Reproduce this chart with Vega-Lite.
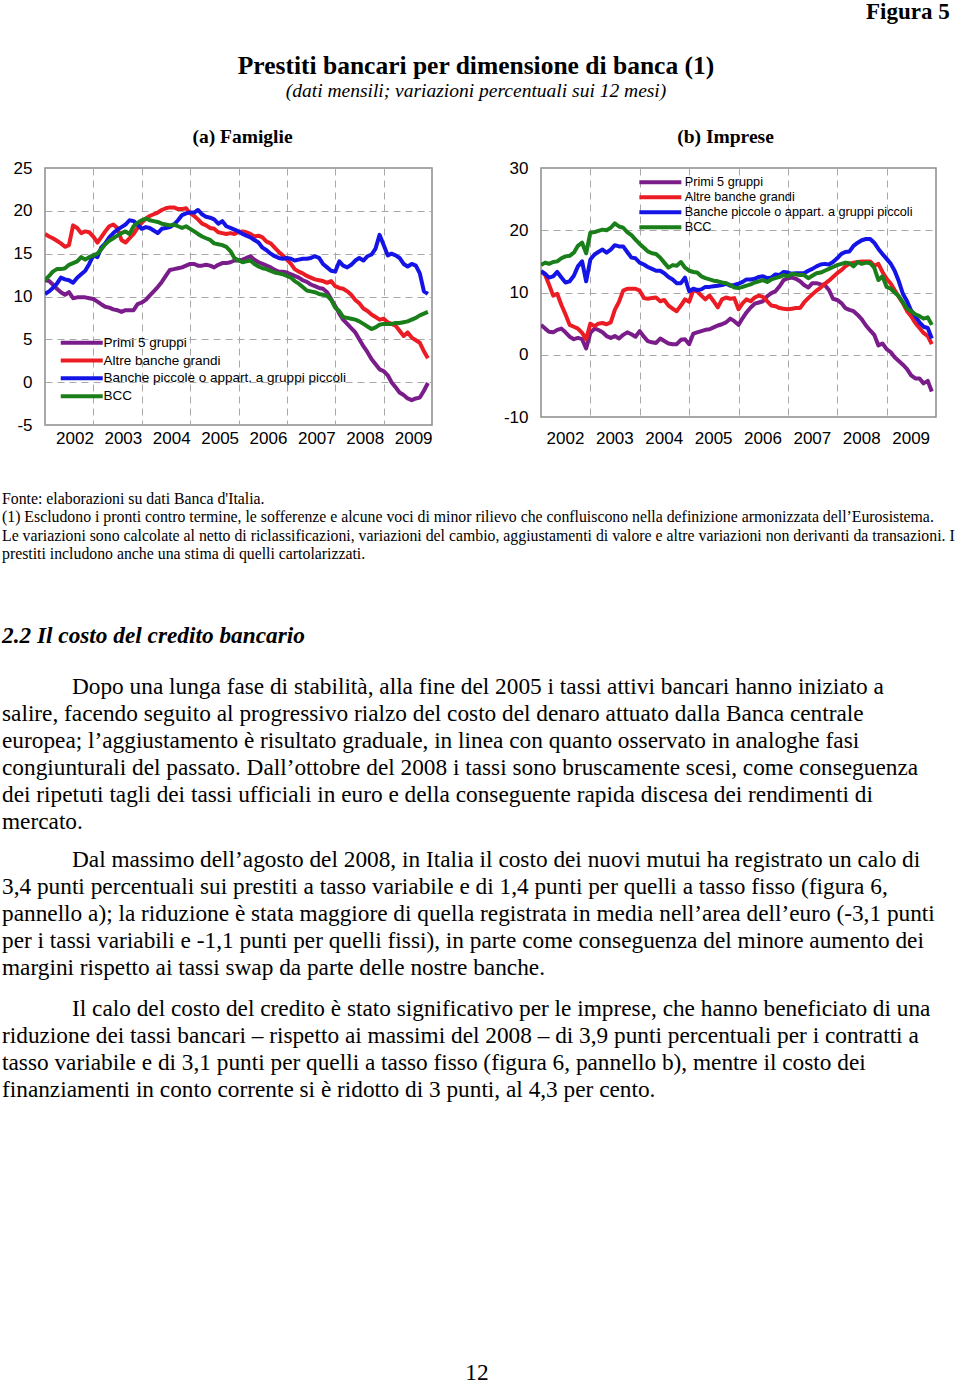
{
"$schema":"https://vega.github.io/schema/vega-lite/v6.json",
"background":"white",
"padding":{"left":1,"top":0,"right":0,"bottom":0},
"title":{"text":"Figura 5","anchor":"end","font":"Liberation Serif","fontSize":23,"fontWeight":"bold","color":"black","offset":30,"dx":-5},
"spacing":23,
"config":{"view":{"stroke":null},"font":"Liberation Sans"},
"datasets":{
"fam":[
{"d":"2002-01-01","P":11.9,"A":17.3,"B":10.3,"C":11.9},{"d":"2002-02-01","P":11.8,"A":17.0,"B":10.6,"C":12.4},{"d":"2002-03-01","P":11.4,"A":16.8,"B":11.0,"C":12.9},{"d":"2002-04-01","P":10.9,"A":16.5,"B":11.5,"C":13.2},{"d":"2002-05-01","P":10.5,"A":16.2,"B":12.2,"C":13.2},{"d":"2002-06-01","P":10.2,"A":15.8,"B":12.0,"C":13.3},{"d":"2002-07-01","P":10.5,"A":16.0,"B":11.9,"C":13.7},{"d":"2002-08-01","P":9.8,"A":18.3,"B":11.6,"C":13.9},{"d":"2002-09-01","P":9.9,"A":18.0,"B":12.2,"C":14.1},{"d":"2002-10-01","P":9.9,"A":17.4,"B":12.6,"C":14.6},{"d":"2002-11-01","P":9.9,"A":17.6,"B":13.0,"C":14.3},{"d":"2002-12-01","P":9.8,"A":17.5,"B":13.8,"C":14.6},
{"d":"2003-01-01","P":9.7,"A":17.0,"B":14.8,"C":14.8},{"d":"2003-02-01","P":9.4,"A":16.3,"B":14.6,"C":15.0},{"d":"2003-03-01","P":9.1,"A":16.9,"B":15.7,"C":15.5},{"d":"2003-04-01","P":8.8,"A":17.6,"B":16.2,"C":16.1},{"d":"2003-05-01","P":8.7,"A":18.2,"B":16.9,"C":16.5},{"d":"2003-06-01","P":8.5,"A":18.4,"B":17.4,"C":16.8},{"d":"2003-07-01","P":8.4,"A":18.0,"B":17.8,"C":17.1},{"d":"2003-08-01","P":8.2,"A":16.6,"B":18.1,"C":17.4},{"d":"2003-09-01","P":8.4,"A":16.3,"B":18.4,"C":17.6},{"d":"2003-10-01","P":8.4,"A":16.8,"B":18.9,"C":17.3},{"d":"2003-11-01","P":8.4,"A":17.3,"B":18.8,"C":18.2},{"d":"2003-12-01","P":9.1,"A":18.0,"B":18.4,"C":18.6},
{"d":"2004-01-01","P":9.3,"A":18.6,"B":17.9,"C":18.9},{"d":"2004-02-01","P":9.6,"A":19.1,"B":18.1,"C":19.1},{"d":"2004-03-01","P":10.1,"A":19.4,"B":18.0,"C":18.9},{"d":"2004-04-01","P":10.6,"A":19.6,"B":17.7,"C":18.8},{"d":"2004-05-01","P":11.1,"A":19.8,"B":17.4,"C":18.7},{"d":"2004-06-01","P":11.7,"A":20.1,"B":17.9,"C":18.5},{"d":"2004-07-01","P":12.4,"A":20.3,"B":18.0,"C":18.4},{"d":"2004-08-01","P":13.1,"A":20.4,"B":18.1,"C":18.3},{"d":"2004-09-01","P":13.2,"A":20.4,"B":18.4,"C":18.4},{"d":"2004-10-01","P":13.3,"A":20.2,"B":18.9,"C":18.2},{"d":"2004-11-01","P":13.4,"A":20.2,"B":19.5,"C":18.0},{"d":"2004-12-01","P":13.6,"A":20.3,"B":19.7,"C":18.2},
{"d":"2005-01-01","P":13.8,"A":19.7,"B":19.8,"C":17.9},{"d":"2005-02-01","P":13.8,"A":19.4,"B":19.8,"C":17.6},{"d":"2005-03-01","P":13.6,"A":19.0,"B":20.1,"C":17.3},{"d":"2005-04-01","P":13.6,"A":18.5,"B":19.6,"C":17.0},{"d":"2005-05-01","P":13.7,"A":18.3,"B":19.3,"C":16.8},{"d":"2005-06-01","P":13.6,"A":18.0,"B":19.2,"C":16.6},{"d":"2005-07-01","P":13.4,"A":17.9,"B":19.0,"C":16.2},{"d":"2005-08-01","P":13.7,"A":17.5,"B":18.5,"C":16.1},{"d":"2005-09-01","P":13.9,"A":17.4,"B":18.8,"C":16.0},{"d":"2005-10-01","P":13.9,"A":17.3,"B":18.2,"C":15.8},{"d":"2005-11-01","P":14.0,"A":17.4,"B":18.0,"C":15.3},{"d":"2005-12-01","P":14.2,"A":17.3,"B":17.8,"C":14.5},
{"d":"2006-01-01","P":14.2,"A":17.5,"B":17.6,"C":14.2},{"d":"2006-02-01","P":14.3,"A":17.6,"B":17.3,"C":14.0},{"d":"2006-03-01","P":14.5,"A":17.5,"B":17.1,"C":14.1},{"d":"2006-04-01","P":14.7,"A":17.3,"B":16.9,"C":14.2},{"d":"2006-05-01","P":14.3,"A":17.0,"B":16.6,"C":13.8},{"d":"2006-06-01","P":14.0,"A":17.1,"B":16.3,"C":13.5},{"d":"2006-07-01","P":13.8,"A":16.9,"B":15.7,"C":13.3},{"d":"2006-08-01","P":13.6,"A":16.4,"B":15.4,"C":13.2},{"d":"2006-09-01","P":13.4,"A":16.2,"B":15.0,"C":13.0},{"d":"2006-10-01","P":13.1,"A":15.7,"B":14.7,"C":12.8},{"d":"2006-11-01","P":12.9,"A":15.2,"B":14.5,"C":12.7},{"d":"2006-12-01","P":12.9,"A":14.8,"B":14.4,"C":12.6},
{"d":"2007-01-01","P":12.8,"A":14.3,"B":14.5,"C":12.4},{"d":"2007-02-01","P":12.6,"A":13.8,"B":14.4,"C":12.2},{"d":"2007-03-01","P":12.4,"A":13.2,"B":14.2,"C":11.8},{"d":"2007-04-01","P":12.2,"A":12.9,"B":14.3,"C":11.5},{"d":"2007-05-01","P":11.9,"A":12.7,"B":14.4,"C":11.1},{"d":"2007-06-01","P":11.7,"A":12.4,"B":14.4,"C":10.7},{"d":"2007-07-01","P":11.4,"A":12.2,"B":14.5,"C":10.6},{"d":"2007-08-01","P":11.2,"A":12.0,"B":14.7,"C":10.5},{"d":"2007-09-01","P":11.0,"A":11.9,"B":14.5,"C":10.3},{"d":"2007-10-01","P":10.9,"A":11.8,"B":13.8,"C":10.2},{"d":"2007-11-01","P":10.5,"A":11.6,"B":13.4,"C":10.1},{"d":"2007-12-01","P":9.7,"A":11.8,"B":13.0,"C":9.6},
{"d":"2008-01-01","P":8.9,"A":11.2,"B":12.9,"C":8.7},{"d":"2008-02-01","P":8.0,"A":11.0,"B":14.1,"C":8.3},{"d":"2008-03-01","P":7.3,"A":10.9,"B":13.6,"C":7.6},{"d":"2008-04-01","P":6.8,"A":10.6,"B":13.4,"C":7.5},{"d":"2008-05-01","P":6.3,"A":10.2,"B":13.7,"C":7.4},{"d":"2008-06-01","P":5.8,"A":9.6,"B":14.2,"C":7.3},{"d":"2008-07-01","P":5.0,"A":9.2,"B":14.5,"C":7.1},{"d":"2008-08-01","P":4.2,"A":8.6,"B":14.2,"C":6.8},{"d":"2008-09-01","P":3.5,"A":8.3,"B":14.7,"C":6.5},{"d":"2008-10-01","P":2.7,"A":7.9,"B":14.9,"C":6.2},{"d":"2008-11-01","P":2.1,"A":7.6,"B":15.6,"C":6.4},{"d":"2008-12-01","P":1.5,"A":7.3,"B":17.2,"C":6.7},
{"d":"2009-01-01","P":1.3,"A":7.4,"B":16.0,"C":6.8},{"d":"2009-02-01","P":0.8,"A":7.0,"B":14.8,"C":6.8},{"d":"2009-03-01","P":0.0,"A":6.8,"B":15.0,"C":6.8},{"d":"2009-04-01","P":-0.6,"A":6.6,"B":14.8,"C":6.9},{"d":"2009-05-01","P":-1.2,"A":6.0,"B":14.5,"C":6.9},{"d":"2009-06-01","P":-1.5,"A":5.4,"B":13.8,"C":7.0},{"d":"2009-07-01","P":-1.9,"A":5.8,"B":13.5,"C":7.1},{"d":"2009-08-01","P":-2.1,"A":5.2,"B":13.8,"C":7.3},{"d":"2009-09-01","P":-1.9,"A":4.9,"B":13.6,"C":7.5},{"d":"2009-10-01","P":-1.8,"A":4.6,"B":12.7,"C":7.8},{"d":"2009-11-01","P":-1.0,"A":3.6,"B":10.6,"C":8.0},{"d":"2009-12-01","P":-0.1,"A":2.8,"B":10.3,"C":8.2}
],
"imp":[
{"d":"2002-01-01","P":4.8,"A":13.4,"B":13.4,"C":14.4},{"d":"2002-02-01","P":4.2,"A":12.8,"B":13.0,"C":14.8},{"d":"2002-03-01","P":3.7,"A":11.3,"B":12.4,"C":14.6},{"d":"2002-04-01","P":3.6,"A":9.5,"B":12.6,"C":14.9},{"d":"2002-05-01","P":4.0,"A":9.8,"B":13.3,"C":15.0},{"d":"2002-06-01","P":4.2,"A":8.0,"B":12.4,"C":15.5},{"d":"2002-07-01","P":3.6,"A":6.5,"B":11.6,"C":15.8},{"d":"2002-08-01","P":2.9,"A":4.8,"B":11.8,"C":15.9},{"d":"2002-09-01","P":2.5,"A":4.5,"B":12.7,"C":16.4},{"d":"2002-10-01","P":2.7,"A":4.2,"B":14.2,"C":17.5},{"d":"2002-11-01","P":2.5,"A":3.5,"B":15.0,"C":18.0},{"d":"2002-12-01","P":1.0,"A":2.5,"B":11.8,"C":16.3},
{"d":"2003-01-01","P":3.5,"A":5.0,"B":15.3,"C":19.6},{"d":"2003-02-01","P":4.2,"A":4.6,"B":16.1,"C":19.7},{"d":"2003-03-01","P":4.0,"A":5.0,"B":16.5,"C":19.9},{"d":"2003-04-01","P":3.6,"A":5.1,"B":16.9,"C":20.1},{"d":"2003-05-01","P":3.0,"A":4.9,"B":16.4,"C":20.0},{"d":"2003-06-01","P":2.7,"A":5.2,"B":16.9,"C":20.4},{"d":"2003-07-01","P":3.0,"A":7.2,"B":17.6,"C":21.1},{"d":"2003-08-01","P":2.6,"A":8.5,"B":17.4,"C":20.6},{"d":"2003-09-01","P":3.2,"A":10.3,"B":17.4,"C":20.4},{"d":"2003-10-01","P":3.6,"A":10.6,"B":16.5,"C":19.7},{"d":"2003-11-01","P":3.3,"A":10.6,"B":15.6,"C":19.2},{"d":"2003-12-01","P":2.9,"A":10.6,"B":15.5,"C":18.5},
{"d":"2004-01-01","P":3.8,"A":10.3,"B":14.8,"C":17.8},{"d":"2004-02-01","P":2.9,"A":9.1,"B":14.5,"C":17.2},{"d":"2004-03-01","P":2.2,"A":9.0,"B":14.1,"C":16.6},{"d":"2004-04-01","P":2.0,"A":9.1,"B":13.8,"C":16.3},{"d":"2004-05-01","P":1.9,"A":9.2,"B":13.5,"C":16.2},{"d":"2004-06-01","P":2.6,"A":8.6,"B":13.5,"C":15.6},{"d":"2004-07-01","P":2.2,"A":8.8,"B":13.1,"C":14.8},{"d":"2004-08-01","P":1.8,"A":7.9,"B":12.5,"C":14.0},{"d":"2004-09-01","P":1.7,"A":7.4,"B":12.1,"C":14.4},{"d":"2004-10-01","P":1.7,"A":7.0,"B":11.5,"C":14.3},{"d":"2004-11-01","P":2.4,"A":7.9,"B":11.5,"C":14.9},{"d":"2004-12-01","P":2.5,"A":8.9,"B":12.4,"C":14.0},
{"d":"2005-01-01","P":1.7,"A":8.5,"B":10.2,"C":13.5},{"d":"2005-02-01","P":3.4,"A":10.4,"B":10.6,"C":13.3},{"d":"2005-03-01","P":3.6,"A":10.2,"B":10.4,"C":13.2},{"d":"2005-04-01","P":3.8,"A":9.5,"B":10.5,"C":12.6},{"d":"2005-05-01","P":4.0,"A":8.9,"B":10.9,"C":12.3},{"d":"2005-06-01","P":4.1,"A":9.5,"B":10.9,"C":12.1},{"d":"2005-07-01","P":4.4,"A":8.6,"B":11.0,"C":11.9},{"d":"2005-08-01","P":4.7,"A":7.6,"B":11.1,"C":11.8},{"d":"2005-09-01","P":4.9,"A":8.9,"B":11.2,"C":11.6},{"d":"2005-10-01","P":5.2,"A":9.2,"B":11.4,"C":11.5},{"d":"2005-11-01","P":5.8,"A":9.0,"B":11.1,"C":11.2},{"d":"2005-12-01","P":5.4,"A":9.1,"B":11.2,"C":10.8},
{"d":"2006-01-01","P":4.8,"A":7.3,"B":11.4,"C":10.7},{"d":"2006-02-01","P":5.9,"A":8.3,"B":11.7,"C":10.9},{"d":"2006-03-01","P":6.8,"A":8.9,"B":12.1,"C":11.1},{"d":"2006-04-01","P":7.6,"A":8.6,"B":12.1,"C":11.3},{"d":"2006-05-01","P":8.2,"A":9.2,"B":12.2,"C":11.6},{"d":"2006-06-01","P":8.4,"A":9.5,"B":12.5,"C":11.8},{"d":"2006-07-01","P":8.6,"A":9.3,"B":12.6,"C":12.0},{"d":"2006-08-01","P":9.4,"A":8.6,"B":12.3,"C":11.7},{"d":"2006-09-01","P":9.9,"A":7.9,"B":12.4,"C":12.1},{"d":"2006-10-01","P":10.2,"A":7.8,"B":12.9,"C":12.3},{"d":"2006-11-01","P":11.0,"A":7.5,"B":12.8,"C":12.5},{"d":"2006-12-01","P":12.0,"A":7.4,"B":13.3,"C":12.8},
{"d":"2007-01-01","P":12.3,"A":7.3,"B":13.2,"C":12.6},{"d":"2007-02-01","P":12.4,"A":7.4,"B":13.0,"C":13.0},{"d":"2007-03-01","P":12.2,"A":7.5,"B":13.1,"C":12.9},{"d":"2007-04-01","P":11.8,"A":7.5,"B":13.1,"C":12.8},{"d":"2007-05-01","P":11.2,"A":8.4,"B":13.1,"C":12.8},{"d":"2007-06-01","P":10.8,"A":9.1,"B":13.5,"C":12.3},{"d":"2007-07-01","P":11.5,"A":9.7,"B":13.8,"C":12.7},{"d":"2007-08-01","P":11.5,"A":10.3,"B":14.2,"C":13.1},{"d":"2007-09-01","P":11.3,"A":10.8,"B":14.5,"C":13.2},{"d":"2007-10-01","P":11.2,"A":11.4,"B":14.6,"C":13.5},{"d":"2007-11-01","P":10.4,"A":11.9,"B":14.5,"C":13.8},{"d":"2007-12-01","P":9.0,"A":12.5,"B":14.9,"C":14.1},
{"d":"2008-01-01","P":8.8,"A":13.1,"B":15.5,"C":14.4},{"d":"2008-02-01","P":8.3,"A":13.6,"B":16.2,"C":14.6},{"d":"2008-03-01","P":7.5,"A":14.2,"B":16.5,"C":14.8},{"d":"2008-04-01","P":7.2,"A":14.6,"B":16.6,"C":14.7},{"d":"2008-05-01","P":7.0,"A":14.8,"B":17.5,"C":14.2},{"d":"2008-06-01","P":6.4,"A":14.9,"B":18.0,"C":14.9},{"d":"2008-07-01","P":5.7,"A":15.0,"B":18.4,"C":14.6},{"d":"2008-08-01","P":4.7,"A":15.0,"B":18.6,"C":14.8},{"d":"2008-09-01","P":3.9,"A":15.0,"B":18.6,"C":14.7},{"d":"2008-10-01","P":3.2,"A":14.3,"B":18.0,"C":14.0},{"d":"2008-11-01","P":1.5,"A":14.6,"B":17.0,"C":12.0},{"d":"2008-12-01","P":1.8,"A":13.3,"B":16.2,"C":12.6},
{"d":"2009-01-01","P":0.9,"A":12.2,"B":15.4,"C":10.9},{"d":"2009-02-01","P":0.4,"A":11.4,"B":14.6,"C":10.6},{"d":"2009-03-01","P":-0.4,"A":10.4,"B":13.5,"C":10.0},{"d":"2009-04-01","P":-1.0,"A":9.3,"B":11.8,"C":9.4},{"d":"2009-05-01","P":-1.6,"A":8.3,"B":9.8,"C":8.4},{"d":"2009-06-01","P":-2.3,"A":7.0,"B":8.6,"C":7.4},{"d":"2009-07-01","P":-3.3,"A":6.2,"B":7.1,"C":7.0},{"d":"2009-08-01","P":-3.8,"A":5.1,"B":6.2,"C":6.5},{"d":"2009-09-01","P":-3.8,"A":4.3,"B":5.2,"C":6.2},{"d":"2009-10-01","P":-4.6,"A":3.5,"B":4.5,"C":5.8},{"d":"2009-11-01","P":-4.2,"A":3.0,"B":4.3,"C":6.0},{"d":"2009-12-01","P":-5.9,"A":1.7,"B":2.6,"C":4.8}
],
"txt":[
{"b":"f","l":1,"i":0,"t":"Fonte: elaborazioni su dati Banca d'Italia."},
{"b":"f","l":2,"i":0,"t":"\u00a0(1) Escludono i pronti contro termine, le sofferenze e alcune voci di minor rilievo che confluiscono nella definizione armonizzata dell’Eurosistema."},
{"b":"f","l":3,"i":0,"t":"Le variazioni sono calcolate al netto di riclassificazioni, variazioni del cambio, aggiustamenti di valore e altre variazioni non derivanti da transazioni. I"},
{"b":"f","l":4,"i":0,"t":"prestiti includono anche una stima di quelli cartolarizzati."},
{"b":"h","l":1,"i":0,"t":"2.2 Il costo del credito bancario"},
{"b":"p1","l":1,"i":1,"t":"Dopo una lunga fase di stabilità, alla fine del 2005 i tassi attivi bancari hanno iniziato a"},
{"b":"p1","l":2,"i":0,"t":"salire, facendo seguito al progressivo rialzo del costo del denaro attuato dalla Banca centrale"},
{"b":"p1","l":3,"i":0,"t":"europea; l’aggiustamento è risultato graduale, in linea con quanto osservato in analoghe fasi"},
{"b":"p1","l":4,"i":0,"t":"congiunturali del passato. Dall’ottobre del 2008 i tassi sono bruscamente scesi, come conseguenza"},
{"b":"p1","l":5,"i":0,"t":"dei ripetuti tagli dei tassi ufficiali in euro e della conseguente rapida discesa dei rendimenti di"},
{"b":"p1","l":6,"i":0,"t":"mercato."},
{"b":"p2","l":1,"i":1,"t":"Dal massimo dell’agosto del 2008, in Italia il costo dei nuovi mutui ha registrato un calo di"},
{"b":"p2","l":2,"i":0,"t":"3,4 punti percentuali sui prestiti a tasso variabile e di 1,4 punti per quelli a tasso fisso (figura 6,"},
{"b":"p2","l":3,"i":0,"t":"pannello a); la riduzione è stata maggiore di quella registrata in media nell’area dell’euro (-3,1 punti"},
{"b":"p2","l":4,"i":0,"t":"per i tassi variabili e -1,1 punti per quelli fissi), in parte come conseguenza del minore aumento dei"},
{"b":"p2","l":5,"i":0,"t":"margini rispetto ai tassi swap da parte delle nostre banche."},
{"b":"p3","l":1,"i":1,"t":"Il calo del costo del credito è stato significativo per le imprese, che hanno beneficiato di una"},
{"b":"p3","l":2,"i":0,"t":"riduzione dei tassi bancari – rispetto ai massimi del 2008 – di 3,9 punti percentuali per i contratti a"},
{"b":"p3","l":3,"i":0,"t":"tasso variabile e di 3,1 punti per quelli a tasso fisso (figura 6, pannello b), mentre il costo dei"},
{"b":"p3","l":4,"i":0,"t":"finanziamenti in conto corrente si è ridotto di 3 punti, al 4,3 per cento."},
{"b":"n","l":1,"i":0,"t":"12"}
]
},
"vconcat":[
{
"title":{"text":"Prestiti bancari per dimensione di banca (1)","subtitle":"(dati mensili; variazioni percentuali sui 12 mesi)","anchor":"middle","font":"Liberation Serif","fontSize":25.5,"fontWeight":"bold","color":"black","subtitleFont":"Liberation Serif","subtitleFontSize":19.5,"subtitleFontStyle":"italic","subtitleColor":"black","subtitlePadding":3,"offset":25,"dx":7},
"spacing":64,
"resolve":{"scale":{"color":"independent","x":"independent","y":"independent"},"legend":{"color":"independent"}},
"hconcat":[
{
"title":{"text":"(a) Famiglie","font":"Liberation Serif","fontSize":19.5,"fontWeight":"bold","color":"black","anchor":"middle","offset":12,"dx":4},
"width":387,"height":257,
"view":{"stroke":"#8c8c8c","strokeWidth":1.5},
"data":{"name":"fam"},
"transform":[{"fold":["P","A","B","C"],"as":["s","v"]}],
"mark":{"type":"line","strokeWidth":4,"strokeJoin":"round","clip":true},
"encoding":{
"x":{"field":"d","type":"temporal","scale":{"type":"utc","domain":[{"year":2002,"utc":true},{"year":2010,"utc":true}],"nice":false},
"axis":{"title":null,"values":[{"year":2002,"utc":true},{"year":2003,"utc":true},{"year":2004,"utc":true},{"year":2005,"utc":true},{"year":2006,"utc":true},{"year":2007,"utc":true},{"year":2008,"utc":true},{"year":2009,"utc":true}],"format":"%Y","labelFont":"Liberation Sans","labelFontSize":17,"labelColor":"black","labelOffset":29.5,"labelPadding":5.5,"labelFlush":false,"labelOverlap":false,"ticks":false,"domain":false,"grid":true,"gridColor":"#a8a8a8","gridDash":[7,5],"gridWidth":1}},
"y":{"field":"v","type":"quantitative","scale":{"domain":[-5,25],"nice":false,"zero":false},
"axis":{"title":null,"values":[-5,0,5,10,15,20,25],"labelExpr":"'' + datum.value","labelFont":"Liberation Sans","labelFontSize":17,"labelColor":"black","labelPadding":13,"ticks":false,"domain":false,"grid":true,"gridColor":"#a8a8a8","gridDash":[7,5],"gridWidth":1,"minExtent":43}},
"color":{"field":"s","type":"nominal","scale":{"domain":["P","A","B","C"],"range":["#7A1C8A","#EC1C24","#1414E6","#1A7F1A"]},
"legend":{"title":null,"orient":"none","legendX":30,"legendY":168,"direction":"vertical","symbolType":"M-7,0H7","symbolSize":36,"symbolStrokeWidth":4,"rowPadding":0.8,"padding":0,"labelOffset":15,"labelLimit":0,"labelFont":"Liberation Sans","labelFontSize":13.5,"labelColor":"black","labelExpr":"datum.label == 'P' ? 'Primi 5 gruppi' : datum.label == 'A' ? 'Altre banche grandi' : datum.label == 'B' ? 'Banche piccole o appart. a gruppi piccoli' : 'BCC'"}}
}
},
{
"title":{"text":"(b) Imprese","font":"Liberation Serif","fontSize":19.5,"fontWeight":"bold","color":"black","anchor":"middle","offset":12,"dx":-13},
"width":395,"height":249,
"view":{"stroke":"#8c8c8c","strokeWidth":1.5},
"data":{"name":"imp"},
"transform":[{"fold":["P","A","B","C"],"as":["s","v"]}],
"mark":{"type":"line","strokeWidth":4,"strokeJoin":"round","clip":true},
"encoding":{
"x":{"field":"d","type":"temporal","scale":{"type":"utc","domain":[{"year":2002,"utc":true},{"year":2010,"utc":true}],"nice":false},
"axis":{"title":null,"values":[{"year":2002,"utc":true},{"year":2003,"utc":true},{"year":2004,"utc":true},{"year":2005,"utc":true},{"year":2006,"utc":true},{"year":2007,"utc":true},{"year":2008,"utc":true},{"year":2009,"utc":true}],"format":"%Y","labelFont":"Liberation Sans","labelFontSize":17,"labelColor":"black","labelOffset":24,"labelPadding":13.5,"labelFlush":false,"labelOverlap":false,"ticks":false,"domain":false,"grid":true,"gridColor":"#a8a8a8","gridDash":[7,5],"gridWidth":1}},
"y":{"field":"v","type":"quantitative","scale":{"domain":[-10,30],"nice":false,"zero":false},
"axis":{"title":null,"values":[-10,0,10,20,30],"labelExpr":"'' + datum.value","labelFont":"Liberation Sans","labelFontSize":17,"labelColor":"black","labelPadding":13,"ticks":false,"domain":false,"grid":true,"gridColor":"#a8a8a8","gridDash":[7,5],"gridWidth":1,"minExtent":43}},
"color":{"field":"s","type":"nominal","scale":{"domain":["P","A","B","C"],"range":["#7A1C8A","#EC1C24","#1414E6","#1A7F1A"]},
"legend":{"title":null,"orient":"none","legendX":113,"legendY":8,"direction":"vertical","symbolType":"M-7,0H7","symbolSize":36,"symbolStrokeWidth":4,"rowPadding":-2,"padding":0,"labelOffset":18,"labelLimit":0,"labelFont":"Liberation Sans","labelFontSize":12.7,"labelColor":"black","labelExpr":"datum.label == 'P' ? 'Primi 5 gruppi' : datum.label == 'A' ? 'Altre banche grandi' : datum.label == 'B' ? 'Banche piccole o appart. a gruppi piccoli' : 'BCC'"}}
}
}
]
},
{
"width":864,"height":910,
"view":{"stroke":null},
"data":{"name":"txt"},
"resolve":{"scale":{"y":"independent"}},
"layer":[
{"transform":[{"filter":"datum.b == 'f'"}],"mark":{"type":"text","align":"left","baseline":"middle","font":"Liberation Serif","fontSize":15.8,"color":"black"},
"encoding":{"x":{"field":"i","type":"quantitative","scale":{"domain":[0,1],"range":[-43,27]},"axis":null},"y":{"field":"l","type":"quantitative","scale":{"domain":[-0.53,49.197],"reverse":true,"nice":false,"zero":false},"axis":null},"text":{"field":"t"}}},
{"transform":[{"filter":"datum.b == 'h'"}],"mark":{"type":"text","align":"left","baseline":"middle","font":"Liberation Serif","fontSize":23.3,"fontWeight":"bold","fontStyle":"italic","color":"black"},
"encoding":{"x":{"field":"i","type":"quantitative","scale":{"domain":[0,1],"range":[-43,27]},"axis":null},"y":{"field":"l","type":"quantitative","scale":{"domain":[-5.111,28.593],"reverse":true,"nice":false,"zero":false},"axis":null},"text":{"field":"t"}}},
{"transform":[{"filter":"datum.b == 'p1'"}],"mark":{"type":"text","align":"left","baseline":"middle","font":"Liberation Serif","fontSize":23.3,"color":"black"},
"encoding":{"x":{"field":"i","type":"quantitative","scale":{"domain":[0,1],"range":[-43,27]},"axis":null},"y":{"field":"l","type":"quantitative","scale":{"domain":[-7,26.704],"reverse":true,"nice":false,"zero":false},"axis":null},"text":{"field":"t"}}},
{"transform":[{"filter":"datum.b == 'p2'"}],"mark":{"type":"text","align":"left","baseline":"middle","font":"Liberation Serif","fontSize":23.3,"color":"black"},
"encoding":{"x":{"field":"i","type":"quantitative","scale":{"domain":[0,1],"range":[-43,27]},"axis":null},"y":{"field":"l","type":"quantitative","scale":{"domain":[-13.407,20.297],"reverse":true,"nice":false,"zero":false},"axis":null},"text":{"field":"t"}}},
{"transform":[{"filter":"datum.b == 'p3'"}],"mark":{"type":"text","align":"left","baseline":"middle","font":"Liberation Serif","fontSize":23.3,"color":"black"},
"encoding":{"x":{"field":"i","type":"quantitative","scale":{"domain":[0,1],"range":[-43,27]},"axis":null},"y":{"field":"l","type":"quantitative","scale":{"domain":[-18.926,14.778],"reverse":true,"nice":false,"zero":false},"axis":null},"text":{"field":"t"}}},
{"transform":[{"filter":"datum.b == 'n'"}],"mark":{"type":"text","align":"center","baseline":"middle","font":"Liberation Serif","fontSize":23.3,"color":"black"},
"encoding":{"y":{"field":"l","type":"quantitative","scale":{"domain":[-32.407,1.297],"reverse":true,"nice":false,"zero":false},"axis":null},"text":{"field":"t"}}}
]
}
]
}
